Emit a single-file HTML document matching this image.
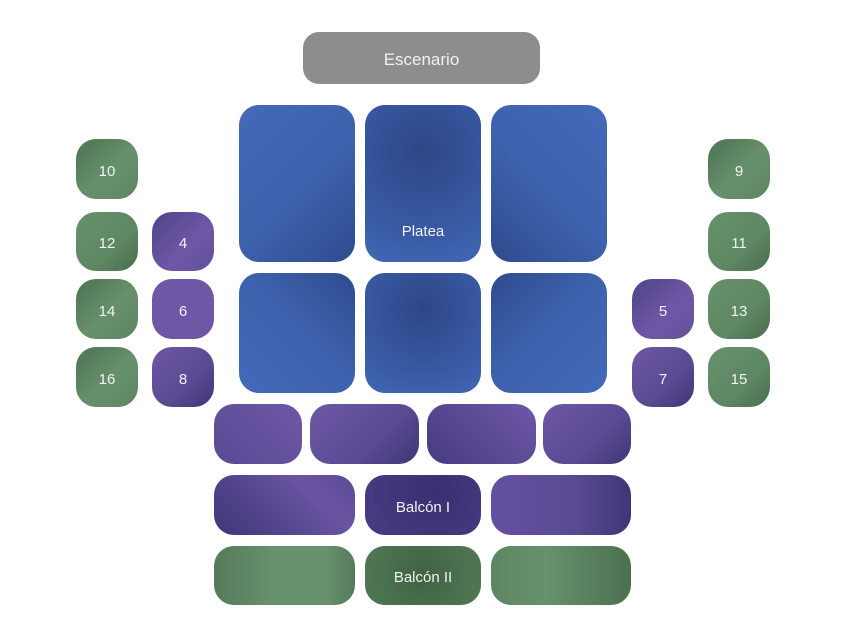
<!DOCTYPE html>
<html><head><meta charset="utf-8"><style>
body{margin:0;width:844px;height:638px;background:#fff;position:relative;overflow:hidden;font-family:"Liberation Sans",sans-serif}
.b{position:absolute;box-sizing:border-box;display:flex;align-items:center;justify-content:center;color:#f2f2f2;font-size:15px;border-radius:20px;padding-top:4px}
.g{background:linear-gradient(135deg,#4d7352,#67906c 55%,#5c8461)}
.g2{background:linear-gradient(135deg,#67906c,#5e8763 60%,#4a6e4e)}
.p{background:linear-gradient(135deg,#4f4388,#6e58a6 60%,#614f98)}
.p2{background:linear-gradient(135deg,#6e58a6,#5a4a92 60%,#3f3676)}
.bl{background:linear-gradient(135deg,#4469b9,#3d61ab 55%,#2f4b8d)}
.bl2{background:radial-gradient(circle at 50% 30%,#2e4687,#3a5ca6 70%,#4168b6)}
.gd{background:radial-gradient(circle at 50% 50%,#3f6244,#4e7552 80%)}
.pd{background:radial-gradient(circle at 60% 30%,#383070,#463a80 80%)}
</style></head><body>
<div class="b" style="left:303px;top:32px;width:237px;height:52px;background:#8e8c8e;border-radius:16px;font-size:17px">Escenario</div>

<div class="b bl" style="left:239px;top:105px;width:116px;height:157px;border-radius:20px"></div>
<div class="b bl2" style="left:365px;top:105px;width:116px;height:157px;border-radius:20px;align-items:flex-end;padding-bottom:22px">Platea</div>
<div class="b bl" style="left:491px;top:105px;width:116px;height:157px;border-radius:20px;background:linear-gradient(225deg,#4469b9,#3d61ab 55%,#2f4b8d)"></div>
<div class="b bl" style="left:239px;top:273px;width:116px;height:120px;border-radius:20px;background:linear-gradient(45deg,#4469b9,#3d61ab 55%,#2f4b8d)"></div>
<div class="b bl2" style="left:365px;top:273px;width:116px;height:120px;border-radius:20px"></div>
<div class="b bl" style="left:491px;top:273px;width:116px;height:120px;border-radius:20px;background:linear-gradient(315deg,#4469b9,#3d61ab 55%,#2f4b8d)"></div>

<div class="b g" style="left:76px;top:139px;width:62px;height:60px">10</div>
<div class="b g2" style="left:76px;top:212px;width:62px;height:59px">12</div>
<div class="b g" style="left:76px;top:279px;width:62px;height:60px">14</div>
<div class="b g" style="left:76px;top:347px;width:62px;height:60px">16</div>
<div class="b p" style="left:152px;top:212px;width:62px;height:59px">4</div>
<div class="b p" style="left:152px;top:279px;width:62px;height:60px;background:#6e58a6">6</div>
<div class="b p2" style="left:152px;top:347px;width:62px;height:60px">8</div>

<div class="b g" style="left:708px;top:139px;width:62px;height:60px">9</div>
<div class="b g2" style="left:708px;top:212px;width:62px;height:59px">11</div>
<div class="b g2" style="left:708px;top:279px;width:62px;height:60px">13</div>
<div class="b g2" style="left:708px;top:347px;width:62px;height:60px">15</div>
<div class="b p" style="left:632px;top:279px;width:62px;height:60px">5</div>
<div class="b p2" style="left:632px;top:347px;width:62px;height:60px">7</div>

<div class="b p" style="left:214px;top:404px;width:88px;height:60px;background:linear-gradient(45deg,#594a93,#6e58a6)"></div>
<div class="b p2" style="left:310px;top:404px;width:109px;height:60px"></div>
<div class="b p" style="left:427px;top:404px;width:109px;height:60px;background:linear-gradient(45deg,#473b80,#6e58a6)"></div>
<div class="b p2" style="left:543px;top:404px;width:88px;height:60px"></div>

<div class="b p" style="left:214px;top:475px;width:141px;height:60px;background:linear-gradient(45deg,#3f3676,#5c4b95 50%,#6a55a3 70%,#5a4a92)"></div>
<div class="b pd" style="left:365px;top:475px;width:116px;height:60px">Balcón I</div>
<div class="b p" style="left:491px;top:475px;width:140px;height:60px;background:linear-gradient(90deg,#6450a0,#5a4a92 60%,#3f3676)"></div>

<div class="b g2" style="left:214px;top:546px;width:141px;height:59px;background:linear-gradient(90deg,#557a5a,#67906c 40%,#67906c 80%,#557a5a)"></div>
<div class="b gd" style="left:365px;top:546px;width:116px;height:59px">Balcón II</div>
<div class="b g2" style="left:491px;top:546px;width:140px;height:59px;background:linear-gradient(90deg,#5e8663,#67906c 40%,#4b704f)"></div>
</body></html>
